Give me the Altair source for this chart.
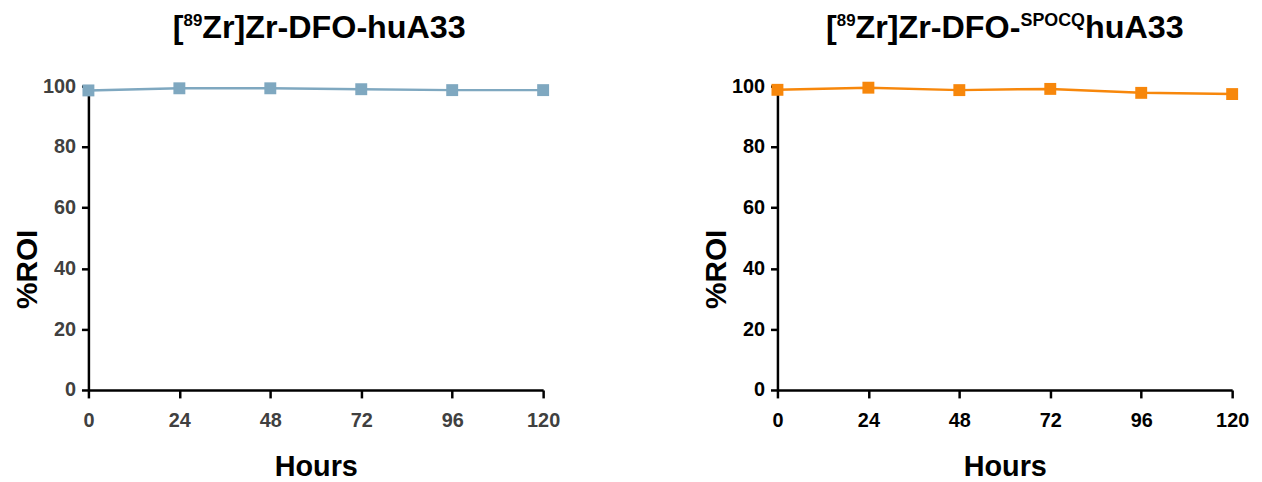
import altair as alt
import pandas as pd

hours = [0, 24, 48, 72, 96, 120]
roi_std = [98.6, 99.3, 99.3, 99.0, 98.7, 98.7]
roi_spocq = [98.8, 99.5, 98.7, 99.1, 97.8, 97.4]
x_ticks = [0, 24, 48, 72, 96, 120]
y_ticks = [0, 20, 40, 60, 80, 100]

FONT = "Liberation Sans"
W, H = 458, 306
TSIZE = 32.5
SUP_NUM = 17
SUP_TXT = 18

# approximate Arial-bold glyph advance widths (per em) for laying out title pieces
ADV = {'[': .333, ']': .333, 'Z': .611, 'r': .389, '-': .333, 'D': .722, 'F': .611,
       'O': .778, 'h': .611, 'u': .611, 'A': .722, '3': .556, '8': .556, '9': .556,
       'S': .667, 'P': .667, 'C': .722, 'Q': .778}


def width(s, size):
    return sum(ADV.get(c, .6) for c in s) * size


def title_layers(pieces, x0):
    """pieces: list of (text, superscript size or None)"""
    layers = []
    x = x0
    for txt, sup in pieces:
        size = sup if sup else TSIZE
        layers.append(
            alt.Chart(pd.DataFrame({"t": [txt]})).mark_text(
                align="left", baseline="alphabetic", font=FONT, fontWeight="bold",
                fontSize=size, color="black",
            ).encode(x=alt.value(x), y=alt.value(-61 if sup else -49), text="t:N")
        )
        x += width(txt, size)
    return layers


def panel(values, color, label_color, pieces, title_x0):
    df = pd.DataFrame({"Hours": hours, "ROI": values})
    xenc = alt.X("Hours:Q", scale=alt.Scale(domain=[0, 120], nice=False),
                 axis=alt.Axis(values=x_ticks, title="Hours", grid=False,
                               labelColor=label_color, labelFontSize=20,
                               labelFont=FONT, labelFontWeight="bold",
                               labelPadding=13, tickSize=8, tickWidth=2.5,
                               tickColor="black", domainColor="black",
                               domainWidth=2.5, titleFont=FONT,
                               titleFontSize=29, titleFontWeight="bold",
                               titleColor="black", titlePadding=22,
                               labelFlush=False))
    yenc = alt.Y("ROI:Q", scale=alt.Scale(domain=[0, 100], nice=False),
                 axis=alt.Axis(values=y_ticks, title="%ROI", grid=False,
                               labelColor=label_color, labelFontSize=20,
                               labelFont=FONT, labelFontWeight="bold",
                               labelPadding=6, tickSize=7, tickWidth=2.5,
                               tickColor="black", domainColor="black",
                               domainWidth=2.5, titleFont=FONT,
                               titleFontSize=30, titleFontWeight="bold",
                               titleColor="black", titleAngle=270,
                               titleX=-61, titleY=184, titleAlign="center",
                               titleBaseline="middle", labelFlush=False))
    base = alt.Chart(df).encode(x=xenc, y=yenc)
    line = base.mark_line(color=color, strokeWidth=2.5)
    pts = base.mark_point(shape="square", filled=True, size=144, color=color, opacity=1)
    return alt.layer(line, pts, *title_layers(pieces, title_x0)).properties(width=W, height=H)


left = panel(roi_std, "#7fa8c0", "#404040",
             [("[", None), ("89", SUP_NUM), ("Zr]Zr-DFO-huA33", None)], 85)
right = panel(roi_spocq, "#f7870b", "black",
              [("[", None), ("89", SUP_NUM), ("Zr]Zr-DFO-", None), ("SPOCQ", SUP_TXT), ("huA33", None)], 49)

chart = alt.hconcat(left, right, spacing=143).configure_view(stroke=None).properties(
    padding={"top": 2, "left": 5, "right": 5, "bottom": 5})

chart.save("out.html", embed_options={"renderer": "svg", "actions": False})
